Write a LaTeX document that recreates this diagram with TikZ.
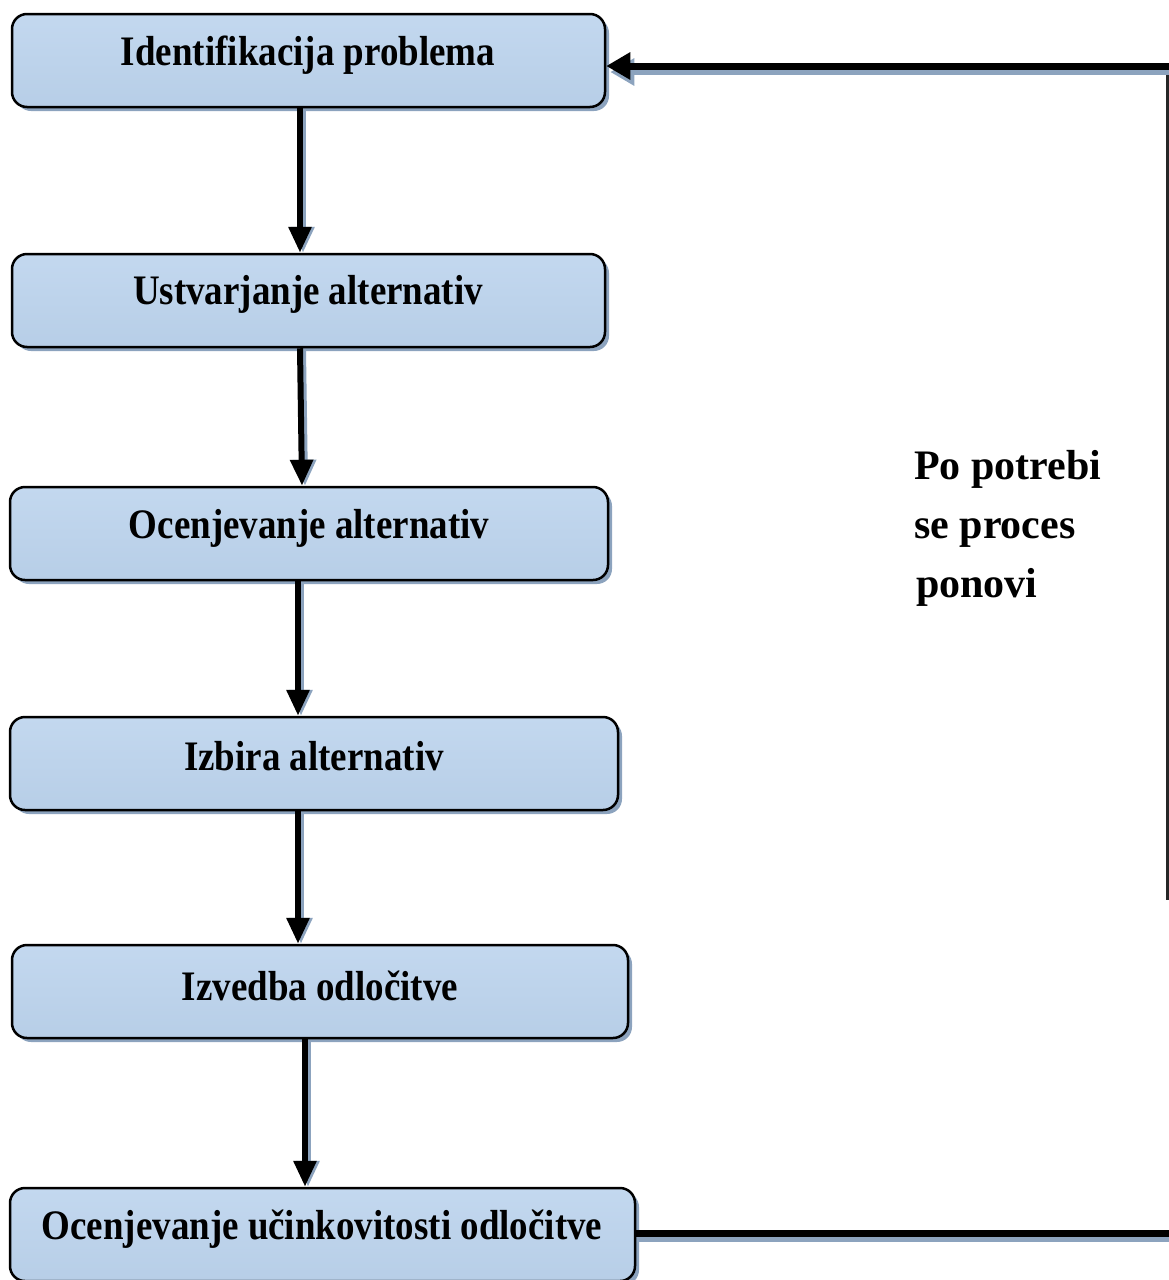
\documentclass[tikz,border=0pt]{standalone}
\usepackage{fontspec}
\setmainfont{Liberation Serif}
\newfontfamily\condfont[FakeStretch=0.88]{Liberation Serif}
\usetikzlibrary{arrows.meta,shadows,calc}
\definecolor{boxtop}{HTML}{C3D8EF}
\definecolor{boxbot}{HTML}{B7CEE7}
\definecolor{shcol}{HTML}{8CA3BE}
\tikzset{
  stepbox/.style={draw=black, line width=2.5pt, rounded corners=15pt,
    top color=boxtop, bottom color=boxbot, minimum height=93pt, inner sep=0pt,
    drop shadow={shadow xshift=4pt, shadow yshift=-4pt, fill=shcol, opacity=1}},
  boxtext/.style={font=\condfont\bfseries\fontsize{42}{48}\selectfont, inner sep=0pt},
  arr/.style={line width=6pt, -{Triangle[width=22pt,length=26pt]}},
  arrsh/.style={line width=6pt, draw=shcol, -{Triangle[width=22pt,length=26pt]}},
  fbline/.style={line width=7pt},
  fbsh/.style={line width=6pt, draw=shcol},
}
\begin{document}
\begin{tikzpicture}[x=1pt,y=-1pt]
\useasboundingbox (0,0) rectangle (1169,1280);
% boxes
\node[stepbox, minimum width=593pt] (b1) at (308.5,60.5) {};
\node[stepbox, minimum width=593pt] (b2) at (308.5,300.5) {};
\node[stepbox, minimum width=598pt] (b3) at (309,533.5) {};
\node[stepbox, minimum width=608pt] (b4) at (314,763.5) {};
\node[stepbox, minimum width=616pt] (b5) at (320,991.5) {};
\node[stepbox, minimum width=625pt] (b6) at (322.5,1234.5) {};
% texts
\node[boxtext] (t1) at (308,55) {Identifikacija problema};
\node[boxtext] (t2) at (308,294) {Ustvarjanje alternativ};
\node[boxtext] (t3) at (309,528) {Ocenjevanje alternativ};
\node[boxtext] (t4) at (314,756) {Izbira alternativ};
\node[boxtext] (t5) at (320,986) {Izvedba odločitve};
\node[boxtext] (t6) at (322,1229) {Ocenjevanje učinkovitosti odločitve};
% arrow x positions
\coordinate (x1) at (300,0);
\coordinate (x2a) at (300,0);
\coordinate (x2b) at (302,0);
\coordinate (x3) at (298,0);
\coordinate (x4) at (298,0);
\coordinate (x5) at (305,0);
% arrows shadows
\draw[arrsh] ($(b1.south -| x1)+(3,2)$) -- ($(b2.north -| x1)+(3,0)$);
\draw[arrsh] ($(b2.south -| x2a)+(3,2)$) -- ($(b3.north -| x2b)+(3,0)$);
\draw[arrsh] ($(b3.south -| x3)+(3,2)$) -- ($(b4.north -| x3)+(3,0)$);
\draw[arrsh] ($(b4.south -| x4)+(3,2)$) -- ($(b5.north -| x4)+(3,0)$);
\draw[arrsh] ($(b5.south -| x5)+(3,2)$) -- ($(b6.north -| x5)+(3,0)$);
% arrows
\draw[arr] (b1.south -| x1) -- (b2.north -| x1);
\draw[arr] (b2.south -| x2a) -- (b3.north -| x2b);
\draw[arr] (b3.south -| x3) -- (b4.north -| x3);
\draw[arr] (b4.south -| x4) -- (b5.north -| x4);
\draw[arr] (b5.south -| x5) -- (b6.north -| x5);
% feedback loop
\coordinate (rb) at (1172,1233);
\coordinate (rt) at (1172,66);
\coordinate (vx) at (1167,0);
\coordinate (vend) at (1167,900);
\draw[fbsh] ($(b6.east |- rb)+(2,6)$) -- ($(rb)+(0,6)$);
\draw[fbline] (b6.east |- rb) -- (rb);
\draw[line width=3pt, draw=black!85] (rt -| vx) -- (vend);
\draw[fbsh, -{Triangle[width=26pt,length=24pt]}] ($(rt)+(0,6)$) -- ($(b1.east |- rt)+(4,6)$);
\draw[fbline, -{Triangle[width=26pt,length=24pt]}] (rt) -- (b1.east |- rt);
% side label
\node[font=\bfseries\fontsize{42}{59}\selectfont, align=left, anchor=north west, inner sep=0pt] (lbl) at (914,450)
  {Po potrebi\\se proces\\\hspace*{2pt}ponovi};
\end{tikzpicture}
\end{document}
